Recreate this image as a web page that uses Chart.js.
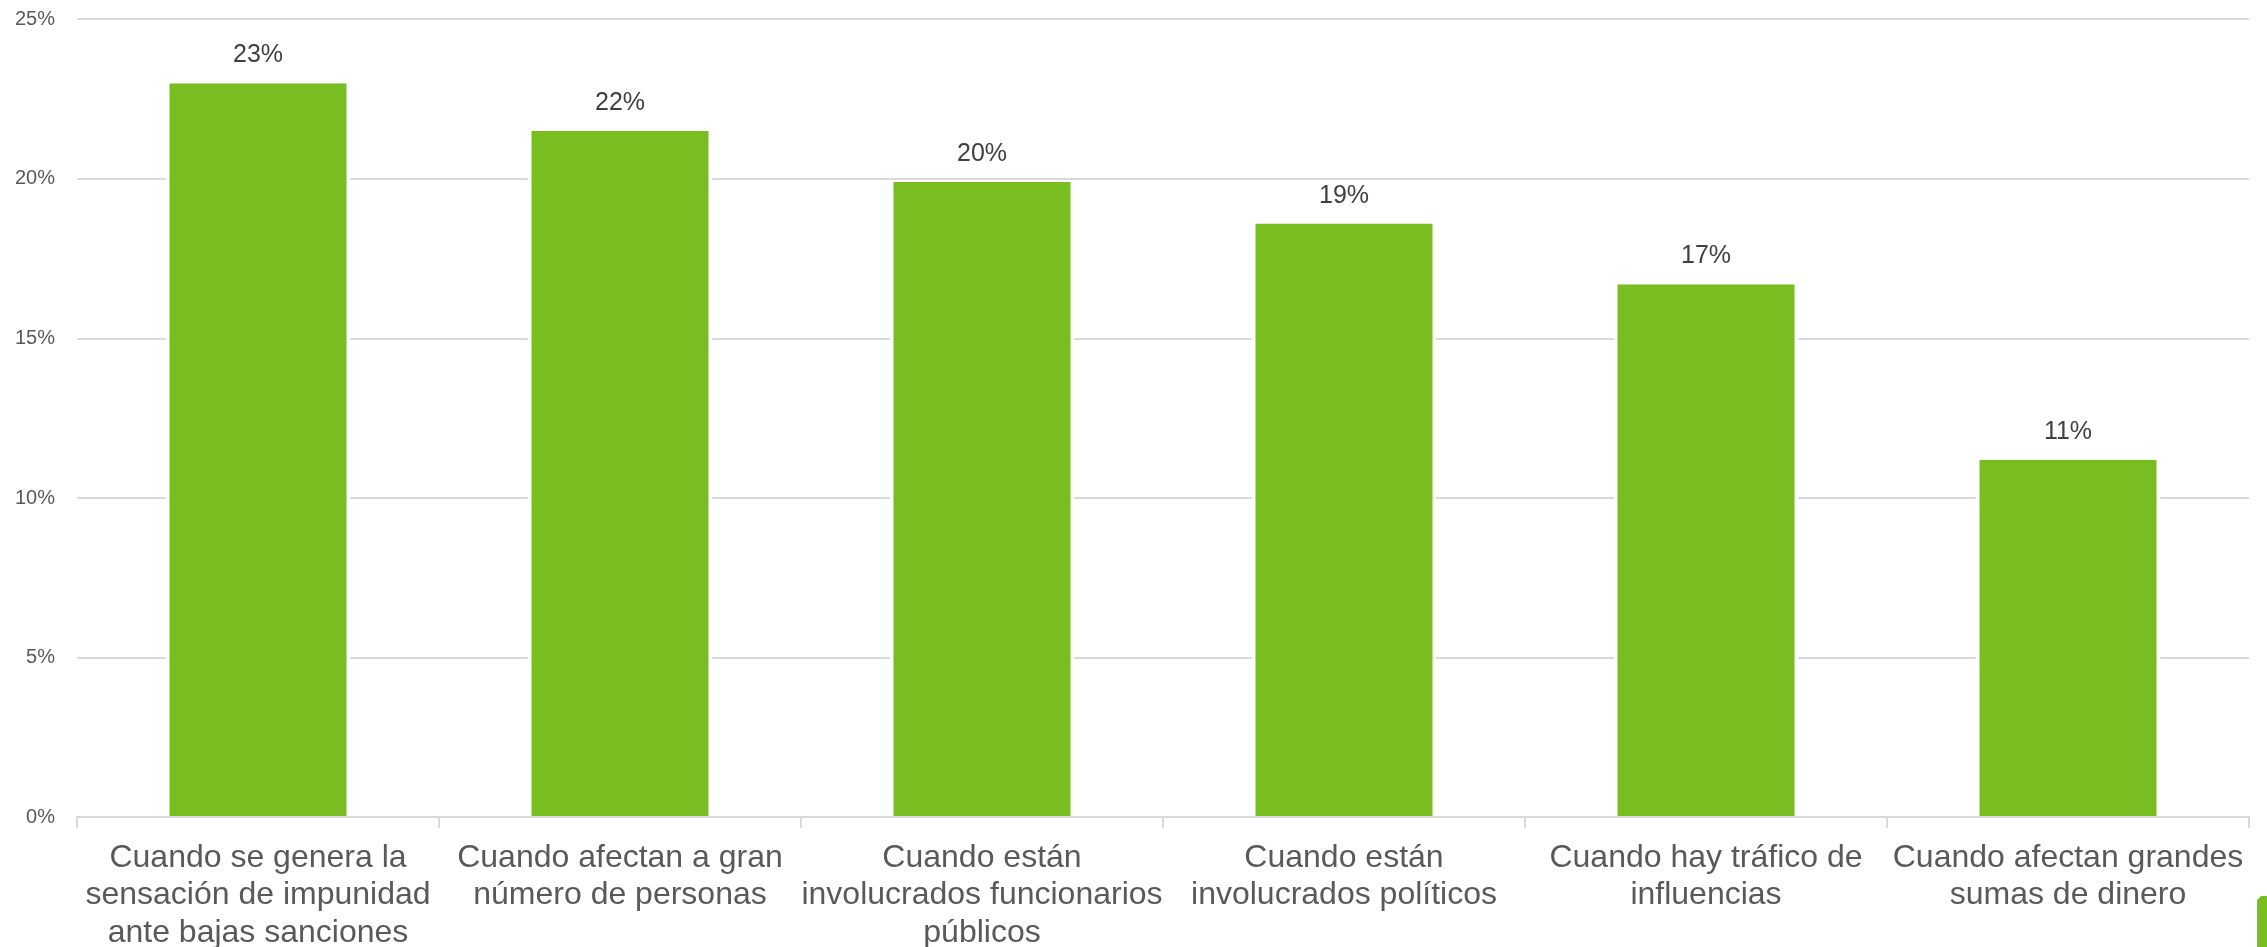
<!DOCTYPE html>
<html lang="es">
<head>
    <meta charset="UTF-8">
    <title>Corrupción</title>
    <style>
        body{
            margin: 0;
            background-color: #ffffff;
            overflow: hidden;
        }
        .wrap{
            position: relative;
            width: 2267px;
            height: 947px;
        }
        .corner{
            position: absolute;
            left: 2257px;
            top: 896px;
            width: 10px;
            height: 51px;
            background-color: #79be21;
            clip-path: polygon(0 4px, 4px 0, 100% 0, 100% 100%, 0 100%);
        }
    </style>
</head>
<body>
    <div class="wrap">
        <canvas id="chart"></canvas>
        <div class="corner"></div>
    </div>

    <script src="https://cdn.jsdelivr.net/npm/chart.js"></script>

    <script>
        // Categories (already wrapped like in the original slide)
        const categories = [
            ['Cuando se genera la', 'sensación de impunidad', 'ante bajas sanciones'],
            ['Cuando afectan a gran', 'número de personas'],
            ['Cuando están', 'involucrados funcionarios', 'públicos'],
            ['Cuando están', 'involucrados políticos'],
            ['Cuando hay tráfico de', 'influencias'],
            ['Cuando afectan grandes', 'sumas de dinero']
        ];
        // Percentages
        const values = [23.0, 21.5, 19.9, 18.6, 16.7, 11.2];
        // Y axis ticks
        const yTicks = [0, 5, 10, 15, 20, 25];

        const fontFamily = '"Liberation Sans", Arial, sans-serif';

        // Draws the value above each bar
        const valueLabels = {
            id: 'valueLabels',
            afterDatasetsDraw(chart) {
                const ctx = chart.ctx;
                const meta = chart.getDatasetMeta(0);
                ctx.save();
                ctx.font = '25px ' + fontFamily;
                ctx.fillStyle = '#404040';
                ctx.textAlign = 'center';
                ctx.textBaseline = 'alphabetic';
                meta.data.forEach((bar, i) => {
                    ctx.fillText(Math.round(values[i]) + '%', bar.x, bar.y - 21);
                });
                ctx.restore();
            }
        };

        const ctx = document.getElementById('chart').getContext('2d');
        const chart = new Chart(ctx, {
            type: 'bar',
            data: {
                labels: categories,
                datasets: [{
                    data: values,
                    backgroundColor: '#79be21',
                    borderColor: '#ffffff',
                    borderWidth: {top: 0, right: 4, bottom: 0, left: 4},
                    barPercentage: 0.511,
                    categoryPercentage: 1
                }]
            },
            options: {
                responsive: true,
                maintainAspectRatio: false,
                animation: false,
                layout: {
                    padding: {top: 19.3, right: 18, bottom: 0, left: 0}
                },
                plugins: {
                    legend: {display: false},
                    tooltip: {enabled: false}
                },
                scales: {
                    x: {
                        afterFit(scale) { scale.height = 129.7; },
                        grid: {
                            drawOnChartArea: false,
                            drawTicks: true,
                            tickLength: 11,
                            color: '#d9d9d9',
                            lineWidth: 2
                        },
                        border: {display: true, color: '#d9d9d9', width: 2, z: 1},
                        ticks: {
                            color: '#595959',
                            font: {family: fontFamily, size: 32, lineHeight: 1.17},
                            padding: 11,
                            maxRotation: 0,
                            autoSkip: false
                        }
                    },
                    y: {
                        min: 0,
                        max: 25,
                        afterFit(scale) {
                            scale.width = 77;
                            scale.paddingTop = 0;
                            scale.paddingBottom = 0;
                        },
                        afterBuildTicks(scale) {
                            scale.ticks = yTicks.map(v => ({value: v}));
                        },
                        grid: {
                            drawTicks: false,
                            color: '#d9d9d9',
                            lineWidth: 2
                        },
                        border: {display: false},
                        ticks: {
                            color: '#595959',
                            font: {family: fontFamily, size: 20},
                            padding: 22,
                            callback: v => v + '%'
                        }
                    }
                }
            },
            plugins: [valueLabels]
        });
    </script>
</body>
</html>
